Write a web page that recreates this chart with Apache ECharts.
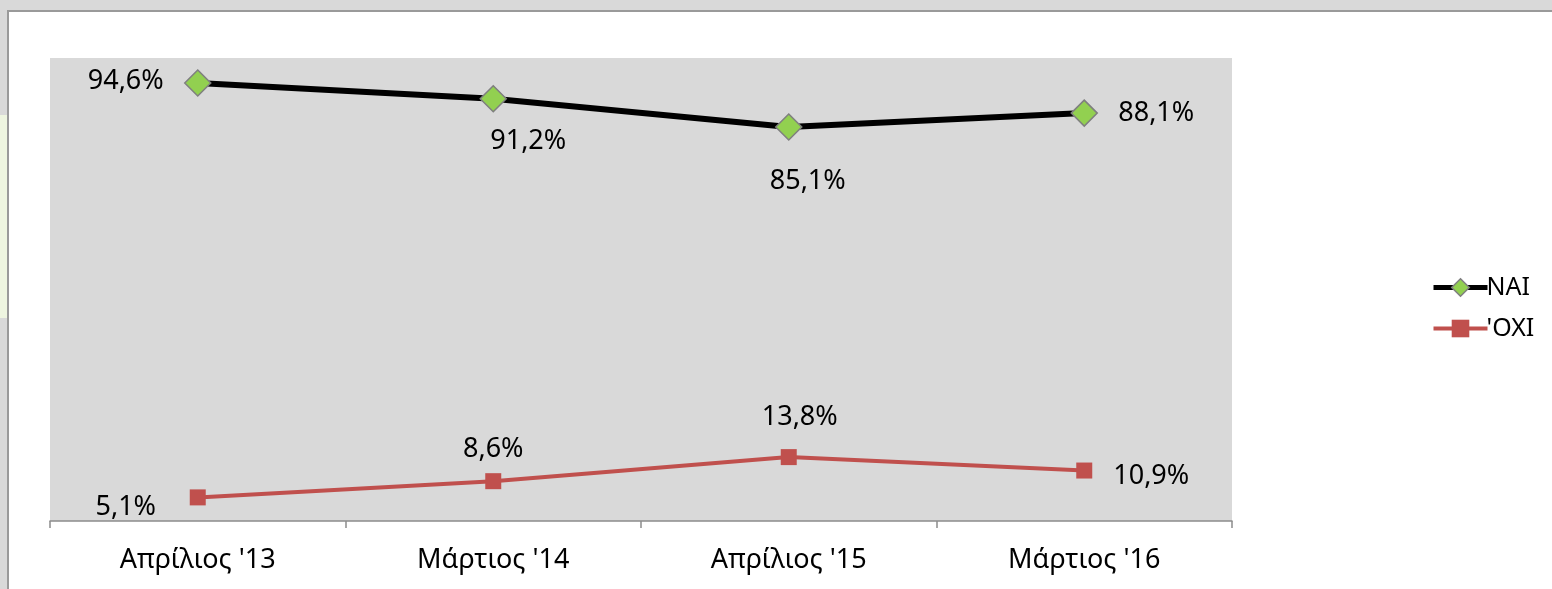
<!DOCTYPE html>
<html><head><meta charset="utf-8">
<script src="https://cdn.jsdelivr.net/npm/echarts@6/dist/echarts.min.js"></script>
<style>html,body{margin:0;padding:0;background:#fff;}#c{width:1552px;height:589px;}</style>
</head><body><div id="c"></div>
<script>
const categories = ["Απρίλιος '13", "Μάρτιος '14", "Απρίλιος '15", "Μάρτιος '16"];
const naiValues = [94.6, 91.2, 85.1, 88.1];
const oxiValues = [5.1, 8.6, 13.8, 10.9];
const seriesNames = ["NAI", "'OXI"];

const FONT = "Noto Sans";
const naiOffsets = [[-72, -2], [35, 43], [19, 54], [72, 0]];
const oxiOffsets = [[-72, 10], [0, -32], [11, -40], [67, 6]];
const fmt = v => v.toFixed(1).replace('.', ',') + '%';

function mkData(vals, offs) {
  return vals.map((v, i) => ({
    value: v,
    label: { offset: offs[i] }
  }));
}

const chart = echarts.init(document.getElementById('c'), null, { renderer: 'canvas' });
chart.setOption({
  animation: false,
  textStyle: { fontFamily: FONT },
  graphic: [
    { type: 'rect', z: -10, silent: true, shape: { x: 0, y: 0, width: 1552, height: 589 }, style: { fill: '#d9d9d9' } },
    { type: 'rect', z: -10, silent: true, shape: { x: 0, y: 115, width: 8, height: 203 }, style: { fill: '#eef5e0' } },
    { type: 'rect', z: -9, silent: true, shape: { x: 8, y: 11, width: 1560, height: 600 }, style: { fill: '#ffffff', stroke: '#9a9a9a', lineWidth: 2 } }
  ],
  grid: { left: 50, right: 320, top: 58, bottom: 68, show: true, backgroundColor: '#d9d9d9', borderWidth: 0 },
  legend: {
    orient: 'vertical', left: 1426, top: 270, itemGap: 16, itemWidth: 54, itemHeight: 22,
    textStyle: { fontFamily: FONT, fontSize: 25, color: '#000', padding: [0, 0, 0, -6] },
    data: [
      { name: seriesNames[0], lineStyle: { width: 5, color: '#000' }, itemStyle: { color: '#92d050', borderColor: '#7f7f7f', borderWidth: 1.5 } },
      { name: seriesNames[1], lineStyle: { width: 4, color: '#c0504d' }, itemStyle: { color: '#c0504d', borderWidth: 0 } }
    ]
  },
  xAxis: {
    type: 'category', data: categories, boundaryGap: true,
    axisLine: { lineStyle: { color: '#8c8c8c', width: 1.5 } },
    axisTick: { show: true, length: 7, lineStyle: { color: '#8c8c8c', width: 1.5 } },
    axisLabel: { fontFamily: FONT, fontSize: 27, color: '#000', margin: 26 }
  },
  yAxis: { type: 'value', min: 0, max: 100, show: false, splitLine: { show: false } },
  series: [
    {
      name: seriesNames[0], type: 'line', data: mkData(naiValues, naiOffsets),
      lineStyle: { color: '#000', width: 6 },
      itemStyle: { color: '#92d050', borderColor: '#7f7f7f', borderWidth: 1.5 },
      symbol: 'diamond', symbolSize: 26, z: 3,
      label: { show: true, position: 'inside', formatter: p => fmt(p.value), fontFamily: FONT, fontSize: 27, color: '#000' }
    },
    {
      name: seriesNames[1], type: 'line', data: mkData(oxiValues, oxiOffsets),
      lineStyle: { color: '#c0504d', width: 4 },
      itemStyle: { color: '#c0504d', borderColor: '#c0504d', borderWidth: 0 },
      symbol: 'rect', symbolSize: 16, z: 2,
      label: { show: true, position: 'inside', formatter: p => fmt(p.value), fontFamily: FONT, fontSize: 27, color: '#000' }
    }
  ]
});
</script></body></html>
